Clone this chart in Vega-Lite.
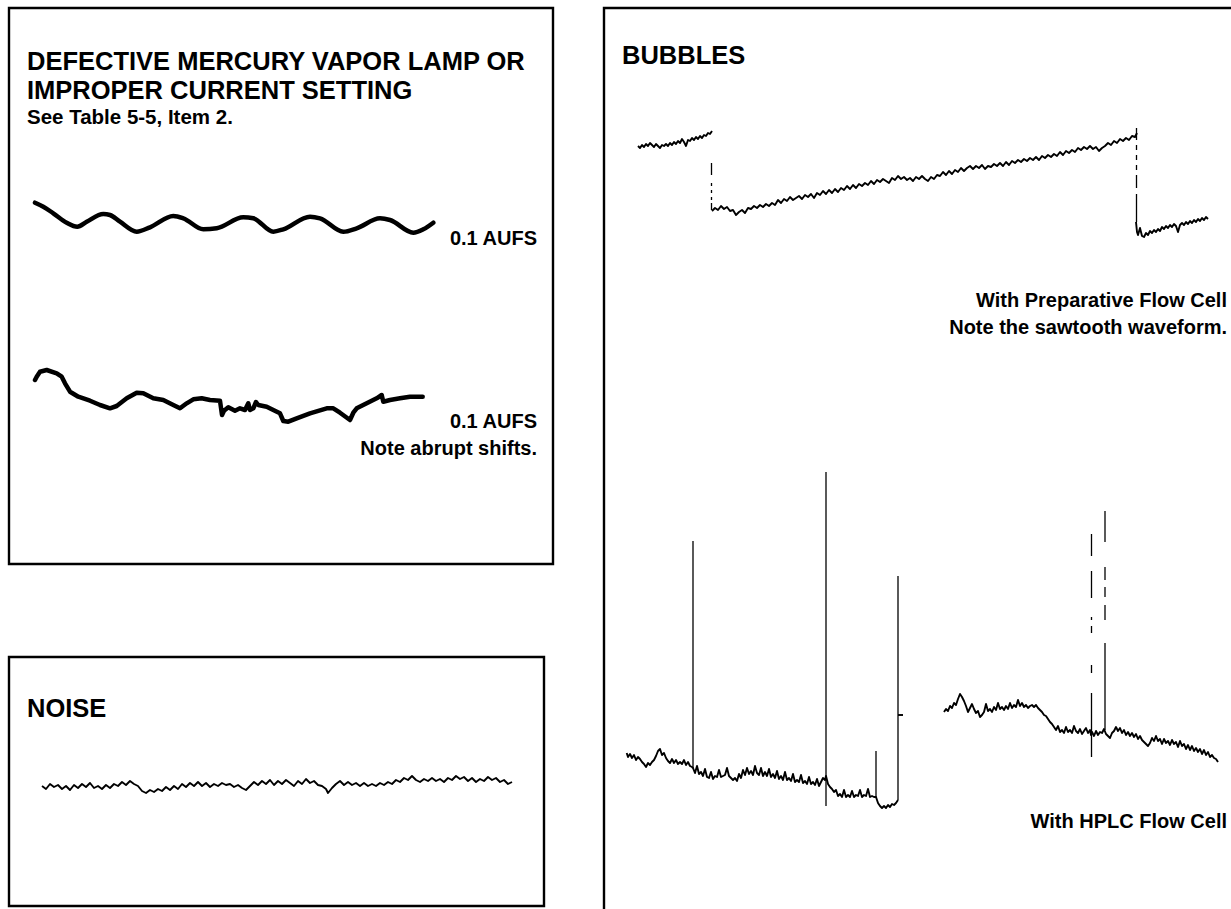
{
"$schema": "https://vega.github.io/schema/vega-lite/v6.json",
"autosize": {"type": "none"},
"width": 1231, "height": 909, "padding": 0, "background": "white",
"config": {"view": {"stroke": null}},
"datasets": {
"boxes": [
{"x1": 9, "x2": 553, "y1": 8, "y2": 564},
{"x1": 9, "x2": 544, "y1": 657, "y2": 906},
{"x1": 604, "x2": 1245, "y1": 8, "y2": 925}
],
"labels": [
{"kind": "head", "x": 27, "y": 70, "text": "DEFECTIVE MERCURY VAPOR LAMP OR"},
{"kind": "head", "x": 27, "y": 99, "text": "IMPROPER CURRENT SETTING"},
{"kind": "head", "x": 27, "y": 717, "text": "NOISE"},
{"kind": "head", "x": 622, "y": 64, "text": "BUBBLES"},
{"kind": "sub", "x": 27, "y": 124, "text": "See Table 5-5, Item 2."},
{"kind": "cap", "x": 537, "y": 245, "text": "0.1 AUFS"},
{"kind": "cap", "x": 537, "y": 428, "text": "0.1 AUFS"},
{"kind": "cap", "x": 537, "y": 455, "text": "Note abrupt shifts."},
{"kind": "cap", "x": 1227, "y": 307, "text": "With Preparative Flow Cell"},
{"kind": "cap", "x": 1227, "y": 334, "text": "Note the sawtooth waveform."},
{"kind": "cap", "x": 1227, "y": 828, "text": "With HPLC Flow Cell"}
],
"wave1": [
{"x":35,"y":202.7},{"x":43.3,"y":206.7},{"x":53.3,"y":213.3},{"x":66.7,"y":222.7},{"x":77.3,"y":226.7},{"x":86.7,"y":221.7},{"x":103.3,"y":214},{"x":110,"y":215},{"x":120,"y":221.7},{"x":136.7,"y":231.7},{"x":150,"y":227.3},{"x":173.3,"y":216},{"x":183.3,"y":218.3},{"x":203.3,"y":229.3},{"x":216.7,"y":228.3},{"x":243.3,"y":217.3},{"x":253.3,"y":218.3},{"x":273.3,"y":231.7},{"x":283.3,"y":229.3},{"x":310,"y":216.7},{"x":320,"y":218.3},{"x":343.3,"y":231.7},{"x":356.7,"y":228.3},{"x":380,"y":218.3},{"x":390,"y":220},{"x":413.3,"y":232.7},{"x":423.3,"y":229.3},{"x":433.3,"y":222.7}
],
"wave2": [
{"x":35,"y":380},{"x":36.7,"y":376.7},{"x":40,"y":371.7},{"x":46.7,"y":370},{"x":56.7,"y":373.3},{"x":61.7,"y":376.7},{"x":65,"y":383.3},{"x":70,"y":391.7},{"x":78.3,"y":396.7},{"x":90,"y":400.7},{"x":100,"y":405},{"x":110,"y":408.3},{"x":116.7,"y":406},{"x":126.7,"y":398.3},{"x":136.7,"y":392.7},{"x":143.3,"y":393.3},{"x":153.3,"y":398.3},{"x":163.3,"y":400},{"x":173.3,"y":405},{"x":180,"y":408.3},{"x":186.7,"y":403.3},{"x":193.3,"y":399.3},{"x":201.7,"y":398.3},{"x":210,"y":400},{"x":220,"y":400.7},{"x":222,"y":415},{"x":224,"y":410.7},{"x":228.3,"y":407.3},{"x":235,"y":410.7},{"x":240,"y":408.3},{"x":245,"y":410},{"x":248.3,"y":403.3},{"x":250,"y":410},{"x":253.3,"y":408.3},{"x":256,"y":402},{"x":258.3,"y":405},{"x":266.7,"y":406.7},{"x":273.3,"y":410},{"x":280,"y":413.3},{"x":283.3,"y":421},{"x":288.3,"y":421.7},{"x":296.7,"y":418.3},{"x":310,"y":413.3},{"x":326.7,"y":408.3},{"x":333.3,"y":408.3},{"x":340,"y":412.7},{"x":350,"y":420},{"x":353.3,"y":412.7},{"x":356.7,"y":408.3},{"x":366.7,"y":403.3},{"x":376.7,"y":398.3},{"x":381.7,"y":395},{"x":383.3,"y":401.7},{"x":390,"y":400},{"x":400,"y":398.3},{"x":410,"y":396.7},{"x":422.7,"y":396.7}
],
"traces": [
{"s":"noise","x":42,"y":786},{"s":"noise","x":46,"y":789},{"s":"noise","x":50,"y":784},{"s":"noise","x":54,"y":787},{"s":"noise","x":58,"y":785},{"s":"noise","x":62,"y":789},{"s":"noise","x":66,"y":786},{"s":"noise","x":70,"y":790},{"s":"noise","x":74,"y":785},{"s":"noise","x":78,"y":788},{"s":"noise","x":82,"y":784},{"s":"noise","x":86,"y":787},{"s":"noise","x":90,"y":783},{"s":"noise","x":94,"y":788},{"s":"noise","x":98,"y":786},{"s":"noise","x":102,"y":789},{"s":"noise","x":106,"y":785},{"s":"noise","x":110,"y":788},{"s":"noise","x":114,"y":784},{"s":"noise","x":118,"y":786},{"s":"noise","x":122,"y":782},{"s":"noise","x":126,"y":785},{"s":"noise","x":130,"y":781},{"s":"noise","x":134,"y":784},{"s":"noise","x":138,"y":786},{"s":"noise","x":142,"y":791},{"s":"noise","x":146,"y":793},{"s":"noise","x":150,"y":790},{"s":"noise","x":154,"y":792},{"s":"noise","x":158,"y":789},{"s":"noise","x":162,"y":791},{"s":"noise","x":166,"y":787},{"s":"noise","x":170,"y":790},{"s":"noise","x":174,"y":786},{"s":"noise","x":178,"y":789},{"s":"noise","x":182,"y":784},{"s":"noise","x":186,"y":787},{"s":"noise","x":190,"y":783},{"s":"noise","x":194,"y":786},{"s":"noise","x":198,"y":782},{"s":"noise","x":202,"y":786},{"s":"noise","x":206,"y":783},{"s":"noise","x":210,"y":787},{"s":"noise","x":214,"y":784},{"s":"noise","x":218,"y":786},{"s":"noise","x":222,"y":783},{"s":"noise","x":226,"y":785},{"s":"noise","x":230,"y":784},{"s":"noise","x":234,"y":787},{"s":"noise","x":238,"y":785},{"s":"noise","x":242,"y":788},{"s":"noise","x":246,"y":790},{"s":"noise","x":250,"y":786},{"s":"noise","x":254,"y":782},{"s":"noise","x":258,"y":785},{"s":"noise","x":262,"y":781},{"s":"noise","x":266,"y":784},{"s":"noise","x":270,"y":780},{"s":"noise","x":274,"y":785},{"s":"noise","x":278,"y":781},{"s":"noise","x":282,"y":784},{"s":"noise","x":286,"y":780},{"s":"noise","x":290,"y":783},{"s":"noise","x":294,"y":786},{"s":"noise","x":298,"y":781},{"s":"noise","x":302,"y":784},{"s":"noise","x":306,"y":779},{"s":"noise","x":310,"y":783},{"s":"noise","x":314,"y":781},{"s":"noise","x":318,"y":785},{"s":"noise","x":322,"y":786},{"s":"noise","x":326,"y":789},{"s":"noise","x":328,"y":793},{"s":"noise","x":332,"y":788},{"s":"noise","x":336,"y":784},{"s":"noise","x":340,"y":781},{"s":"noise","x":344,"y":785},{"s":"noise","x":348,"y":782},{"s":"noise","x":352,"y":785},{"s":"noise","x":356,"y":783},{"s":"noise","x":360,"y":786},{"s":"noise","x":364,"y":783},{"s":"noise","x":368,"y":786},{"s":"noise","x":372,"y":784},{"s":"noise","x":376,"y":786},{"s":"noise","x":380,"y":783},{"s":"noise","x":384,"y":785},{"s":"noise","x":388,"y":782},{"s":"noise","x":392,"y":784},{"s":"noise","x":396,"y":780},{"s":"noise","x":400,"y":782},{"s":"noise","x":404,"y":778},{"s":"noise","x":408,"y":780},{"s":"noise","x":412,"y":776},{"s":"noise","x":416,"y":780},{"s":"noise","x":420,"y":782},{"s":"noise","x":424,"y":779},{"s":"noise","x":428,"y":781},{"s":"noise","x":432,"y":778},{"s":"noise","x":436,"y":781},{"s":"noise","x":440,"y":779},{"s":"noise","x":444,"y":782},{"s":"noise","x":448,"y":778},{"s":"noise","x":452,"y":780},{"s":"noise","x":456,"y":776},{"s":"noise","x":460,"y":779},{"s":"noise","x":464,"y":777},{"s":"noise","x":468,"y":781},{"s":"noise","x":472,"y":778},{"s":"noise","x":476,"y":782},{"s":"noise","x":480,"y":779},{"s":"noise","x":484,"y":781},{"s":"noise","x":488,"y":777},{"s":"noise","x":492,"y":780},{"s":"noise","x":496,"y":778},{"s":"noise","x":500,"y":782},{"s":"noise","x":504,"y":780},{"s":"noise","x":508,"y":784},{"s":"noise","x":512,"y":782},
{"s":"bA","x":638,"y":146},{"s":"bA","x":640,"y":148},{"s":"bA","x":642,"y":145},{"s":"bA","x":644,"y":147},{"s":"bA","x":646,"y":144},{"s":"bA","x":648,"y":146},{"s":"bA","x":650,"y":143},{"s":"bA","x":652,"y":145},{"s":"bA","x":654,"y":147},{"s":"bA","x":656,"y":144},{"s":"bA","x":658,"y":146},{"s":"bA","x":660,"y":148},{"s":"bA","x":662,"y":145},{"s":"bA","x":664,"y":146},{"s":"bA","x":666,"y":144},{"s":"bA","x":668,"y":146},{"s":"bA","x":670,"y":143},{"s":"bA","x":672,"y":145},{"s":"bA","x":674,"y":142},{"s":"bA","x":676,"y":144},{"s":"bA","x":678,"y":141},{"s":"bA","x":680,"y":143},{"s":"bA","x":682,"y":139},{"s":"bA","x":684,"y":142},{"s":"bA","x":686,"y":146},{"s":"bA","x":688,"y":140},{"s":"bA","x":690,"y":141},{"s":"bA","x":692,"y":138},{"s":"bA","x":694,"y":140},{"s":"bA","x":696,"y":137},{"s":"bA","x":698,"y":139},{"s":"bA","x":700,"y":136},{"s":"bA","x":702,"y":138},{"s":"bA","x":704,"y":135},{"s":"bA","x":706,"y":136},{"s":"bA","x":708,"y":133},{"s":"bA","x":710,"y":134},{"s":"bA","x":712,"y":131},
{"s":"bB","x":712,"y":211},{"s":"bB","x":715,"y":208},{"s":"bB","x":718,"y":210},{"s":"bB","x":721,"y":206},{"s":"bB","x":724,"y":209},{"s":"bB","x":727,"y":207},{"s":"bB","x":730,"y":211},{"s":"bB","x":733,"y":210},{"s":"bB","x":736,"y":215},{"s":"bB","x":739,"y":212},{"s":"bB","x":742,"y":210},{"s":"bB","x":745,"y":213},{"s":"bB","x":748,"y":208},{"s":"bB","x":751,"y":209},{"s":"bB","x":754,"y":206},{"s":"bB","x":757,"y":208},{"s":"bB","x":760,"y":205},{"s":"bB","x":763,"y":207},{"s":"bB","x":766,"y":204},{"s":"bB","x":769,"y":206},{"s":"bB","x":772,"y":203},{"s":"bB","x":775,"y":205},{"s":"bB","x":778,"y":200},{"s":"bB","x":781,"y":203},{"s":"bB","x":784,"y":199},{"s":"bB","x":787,"y":201},{"s":"bB","x":790,"y":197},{"s":"bB","x":793,"y":200},{"s":"bB","x":796,"y":198},{"s":"bB","x":799,"y":196},{"s":"bB","x":802,"y":199},{"s":"bB","x":805,"y":195},{"s":"bB","x":808,"y":197},{"s":"bB","x":811,"y":194},{"s":"bB","x":814,"y":198},{"s":"bB","x":817,"y":193},{"s":"bB","x":820,"y":195},{"s":"bB","x":823,"y":191},{"s":"bB","x":826,"y":194},{"s":"bB","x":829,"y":190},{"s":"bB","x":832,"y":193},{"s":"bB","x":835,"y":189},{"s":"bB","x":838,"y":192},{"s":"bB","x":841,"y":188},{"s":"bB","x":844,"y":190},{"s":"bB","x":847,"y":186},{"s":"bB","x":850,"y":189},{"s":"bB","x":853,"y":185},{"s":"bB","x":856,"y":188},{"s":"bB","x":859,"y":184},{"s":"bB","x":862,"y":186},{"s":"bB","x":865,"y":183},{"s":"bB","x":868,"y":185},{"s":"bB","x":871,"y":181},{"s":"bB","x":874,"y":184},{"s":"bB","x":877,"y":180},{"s":"bB","x":880,"y":182},{"s":"bB","x":883,"y":179},{"s":"bB","x":886,"y":181},{"s":"bB","x":889,"y":183},{"s":"bB","x":892,"y":178},{"s":"bB","x":895,"y":180},{"s":"bB","x":898,"y":176},{"s":"bB","x":901,"y":179},{"s":"bB","x":904,"y":177},{"s":"bB","x":907,"y":180},{"s":"bB","x":910,"y":178},{"s":"bB","x":913,"y":181},{"s":"bB","x":916,"y":177},{"s":"bB","x":919,"y":179},{"s":"bB","x":922,"y":176},{"s":"bB","x":925,"y":179},{"s":"bB","x":928,"y":181},{"s":"bB","x":931,"y":177},{"s":"bB","x":934,"y":179},{"s":"bB","x":937,"y":175},{"s":"bB","x":940,"y":176},{"s":"bB","x":943,"y":172},{"s":"bB","x":946,"y":175},{"s":"bB","x":949,"y":171},{"s":"bB","x":952,"y":174},{"s":"bB","x":955,"y":170},{"s":"bB","x":958,"y":172},{"s":"bB","x":961,"y":168},{"s":"bB","x":964,"y":171},{"s":"bB","x":967,"y":168},{"s":"bB","x":970,"y":166},{"s":"bB","x":973,"y":169},{"s":"bB","x":976,"y":166},{"s":"bB","x":979,"y":168},{"s":"bB","x":982,"y":165},{"s":"bB","x":985,"y":169},{"s":"bB","x":988,"y":166},{"s":"bB","x":991,"y":167},{"s":"bB","x":994,"y":164},{"s":"bB","x":997,"y":166},{"s":"bB","x":1000,"y":163},{"s":"bB","x":1003,"y":166},{"s":"bB","x":1006,"y":162},{"s":"bB","x":1009,"y":165},{"s":"bB","x":1012,"y":161},{"s":"bB","x":1015,"y":163},{"s":"bB","x":1018,"y":160},{"s":"bB","x":1021,"y":162},{"s":"bB","x":1024,"y":159},{"s":"bB","x":1027,"y":161},{"s":"bB","x":1030,"y":158},{"s":"bB","x":1033,"y":160},{"s":"bB","x":1036,"y":157},{"s":"bB","x":1039,"y":160},{"s":"bB","x":1042,"y":156},{"s":"bB","x":1045,"y":158},{"s":"bB","x":1048,"y":155},{"s":"bB","x":1051,"y":157},{"s":"bB","x":1054,"y":154},{"s":"bB","x":1057,"y":156},{"s":"bB","x":1060,"y":152},{"s":"bB","x":1063,"y":155},{"s":"bB","x":1066,"y":151},{"s":"bB","x":1069,"y":153},{"s":"bB","x":1072,"y":150},{"s":"bB","x":1075,"y":152},{"s":"bB","x":1078,"y":148},{"s":"bB","x":1081,"y":150},{"s":"bB","x":1084,"y":147},{"s":"bB","x":1087,"y":149},{"s":"bB","x":1090,"y":146},{"s":"bB","x":1093,"y":149},{"s":"bB","x":1096,"y":147},{"s":"bB","x":1099,"y":151},{"s":"bB","x":1102,"y":148},{"s":"bB","x":1105,"y":146},{"s":"bB","x":1108,"y":143},{"s":"bB","x":1111,"y":145},{"s":"bB","x":1114,"y":141},{"s":"bB","x":1117,"y":143},{"s":"bB","x":1120,"y":139},{"s":"bB","x":1123,"y":141},{"s":"bB","x":1126,"y":138},{"s":"bB","x":1129,"y":140},{"s":"bB","x":1132,"y":136},{"s":"bB","x":1135,"y":137},{"s":"bB","x":1137,"y":133},
{"s":"bC","x":1136,"y":222},{"s":"bC","x":1137,"y":232},{"s":"bC","x":1138,"y":235},{"s":"bC","x":1140,"y":228},{"s":"bC","x":1142,"y":236},{"s":"bC","x":1144,"y":237},{"s":"bC","x":1146,"y":233},{"s":"bC","x":1148,"y":235},{"s":"bC","x":1150,"y":231},{"s":"bC","x":1152,"y":233},{"s":"bC","x":1154,"y":230},{"s":"bC","x":1156,"y":232},{"s":"bC","x":1158,"y":229},{"s":"bC","x":1160,"y":231},{"s":"bC","x":1162,"y":227},{"s":"bC","x":1164,"y":229},{"s":"bC","x":1166,"y":226},{"s":"bC","x":1168,"y":228},{"s":"bC","x":1170,"y":225},{"s":"bC","x":1172,"y":227},{"s":"bC","x":1174,"y":224},{"s":"bC","x":1176,"y":226},{"s":"bC","x":1178,"y":232},{"s":"bC","x":1180,"y":225},{"s":"bC","x":1182,"y":223},{"s":"bC","x":1184,"y":225},{"s":"bC","x":1186,"y":222},{"s":"bC","x":1188,"y":224},{"s":"bC","x":1190,"y":221},{"s":"bC","x":1192,"y":223},{"s":"bC","x":1194,"y":220},{"s":"bC","x":1196,"y":222},{"s":"bC","x":1198,"y":219},{"s":"bC","x":1200,"y":221},{"s":"bC","x":1202,"y":218},{"s":"bC","x":1204,"y":220},{"s":"bC","x":1206,"y":217},{"s":"bC","x":1208,"y":219},
{"s":"hL","x":626.7,"y":753},{"s":"hL","x":628,"y":757},{"s":"hL","x":630,"y":754},{"s":"hL","x":632,"y":758},{"s":"hL","x":634,"y":755},{"s":"hL","x":636,"y":760},{"s":"hL","x":638,"y":757},{"s":"hL","x":640,"y":759},{"s":"hL","x":642,"y":762},{"s":"hL","x":644,"y":764},{"s":"hL","x":646,"y":767},{"s":"hL","x":648,"y":763},{"s":"hL","x":650,"y":765},{"s":"hL","x":652,"y":762},{"s":"hL","x":654,"y":760},{"s":"hL","x":656,"y":756},{"s":"hL","x":658,"y":751},{"s":"hL","x":660,"y":749},{"s":"hL","x":662,"y":755},{"s":"hL","x":664,"y":753},{"s":"hL","x":666,"y":758},{"s":"hL","x":668,"y":761},{"s":"hL","x":670,"y":763},{"s":"hL","x":672,"y":759},{"s":"hL","x":674,"y":763},{"s":"hL","x":676,"y":760},{"s":"hL","x":678,"y":764},{"s":"hL","x":680,"y":762},{"s":"hL","x":682,"y":764},{"s":"hL","x":684,"y":760},{"s":"hL","x":686,"y":765},{"s":"hL","x":688,"y":762},{"s":"hL","x":690,"y":766},{"s":"hL","x":692,"y":767},{"s":"hL","x":693,"y":768},{"s":"hL","x":695,"y":773},{"s":"hL","x":697,"y":766},{"s":"hL","x":699,"y":774},{"s":"hL","x":701,"y":772},{"s":"hL","x":703,"y":776},{"s":"hL","x":705,"y":769},{"s":"hL","x":707,"y":777},{"s":"hL","x":709,"y":778},{"s":"hL","x":711,"y":772},{"s":"hL","x":713,"y":779},{"s":"hL","x":715,"y":776},{"s":"hL","x":717,"y":777},{"s":"hL","x":719,"y":770},{"s":"hL","x":721,"y":777},{"s":"hL","x":723,"y":776},{"s":"hL","x":725,"y":775},{"s":"hL","x":727,"y":768},{"s":"hL","x":729,"y":776},{"s":"hL","x":731,"y":778},{"s":"hL","x":733,"y":780},{"s":"hL","x":735,"y":778},{"s":"hL","x":737,"y":781},{"s":"hL","x":739,"y":774},{"s":"hL","x":741,"y":778},{"s":"hL","x":743,"y":770},{"s":"hL","x":745,"y":775},{"s":"hL","x":747,"y":768},{"s":"hL","x":749,"y":774},{"s":"hL","x":751,"y":771},{"s":"hL","x":753,"y":775},{"s":"hL","x":755,"y":766},{"s":"hL","x":757,"y":773},{"s":"hL","x":759,"y":775},{"s":"hL","x":761,"y":768},{"s":"hL","x":763,"y":776},{"s":"hL","x":765,"y":772},{"s":"hL","x":767,"y":776},{"s":"hL","x":769,"y":769},{"s":"hL","x":771,"y":777},{"s":"hL","x":773,"y":774},{"s":"hL","x":775,"y":778},{"s":"hL","x":777,"y":771},{"s":"hL","x":779,"y":779},{"s":"hL","x":781,"y":776},{"s":"hL","x":783,"y":780},{"s":"hL","x":785,"y":772},{"s":"hL","x":787,"y":780},{"s":"hL","x":789,"y":778},{"s":"hL","x":791,"y":781},{"s":"hL","x":793,"y":774},{"s":"hL","x":795,"y":782},{"s":"hL","x":797,"y":780},{"s":"hL","x":799,"y":782},{"s":"hL","x":801,"y":775},{"s":"hL","x":803,"y":783},{"s":"hL","x":805,"y":781},{"s":"hL","x":807,"y":784},{"s":"hL","x":809,"y":777},{"s":"hL","x":811,"y":784},{"s":"hL","x":813,"y":782},{"s":"hL","x":815,"y":785},{"s":"hL","x":817,"y":779},{"s":"hL","x":819,"y":786},{"s":"hL","x":821,"y":782},{"s":"hL","x":823,"y":778},{"s":"hL","x":825,"y":780},{"s":"hL","x":826,"y":776},{"s":"hL","x":828,"y":784},{"s":"hL","x":830,"y":787},{"s":"hL","x":832,"y":789},{"s":"hL","x":834,"y":792},{"s":"hL","x":836,"y":790},{"s":"hL","x":838,"y":796},{"s":"hL","x":840,"y":794},{"s":"hL","x":842,"y":797},{"s":"hL","x":844,"y":790},{"s":"hL","x":846,"y":797},{"s":"hL","x":848,"y":795},{"s":"hL","x":850,"y":797},{"s":"hL","x":852,"y":791},{"s":"hL","x":854,"y":797},{"s":"hL","x":856,"y":795},{"s":"hL","x":858,"y":796},{"s":"hL","x":860,"y":790},{"s":"hL","x":862,"y":797},{"s":"hL","x":864,"y":795},{"s":"hL","x":866,"y":796},{"s":"hL","x":868,"y":789},{"s":"hL","x":870,"y":797},{"s":"hL","x":872,"y":796},{"s":"hL","x":874,"y":797},{"s":"hL","x":876,"y":797},{"s":"hL","x":878,"y":803},{"s":"hL","x":880,"y":806},{"s":"hL","x":882,"y":808},{"s":"hL","x":884,"y":806},{"s":"hL","x":886,"y":808},{"s":"hL","x":888,"y":805},{"s":"hL","x":890,"y":807},{"s":"hL","x":892,"y":804},{"s":"hL","x":894,"y":805},{"s":"hL","x":896,"y":803},{"s":"hL","x":898,"y":800},
{"s":"tick","x":898,"y":715},{"s":"tick","x":903,"y":715},
{"s":"hR","x":944,"y":712},{"s":"hR","x":946,"y":709},{"s":"hR","x":948,"y":711},{"s":"hR","x":950,"y":706},{"s":"hR","x":952,"y":708},{"s":"hR","x":954,"y":703},{"s":"hR","x":956,"y":705},{"s":"hR","x":958,"y":699},{"s":"hR","x":960,"y":694},{"s":"hR","x":962,"y":697},{"s":"hR","x":964,"y":701},{"s":"hR","x":966,"y":706},{"s":"hR","x":968,"y":712},{"s":"hR","x":970,"y":708},{"s":"hR","x":972,"y":704},{"s":"hR","x":974,"y":709},{"s":"hR","x":976,"y":713},{"s":"hR","x":978,"y":711},{"s":"hR","x":980,"y":717},{"s":"hR","x":982,"y":715},{"s":"hR","x":984,"y":712},{"s":"hR","x":986,"y":704},{"s":"hR","x":988,"y":711},{"s":"hR","x":990,"y":709},{"s":"hR","x":992,"y":712},{"s":"hR","x":994,"y":707},{"s":"hR","x":996,"y":710},{"s":"hR","x":998,"y":703},{"s":"hR","x":1000,"y":709},{"s":"hR","x":1002,"y":707},{"s":"hR","x":1004,"y":710},{"s":"hR","x":1006,"y":706},{"s":"hR","x":1008,"y":709},{"s":"hR","x":1010,"y":703},{"s":"hR","x":1012,"y":708},{"s":"hR","x":1014,"y":705},{"s":"hR","x":1016,"y":707},{"s":"hR","x":1018,"y":700},{"s":"hR","x":1020,"y":706},{"s":"hR","x":1022,"y":703},{"s":"hR","x":1024,"y":707},{"s":"hR","x":1026,"y":705},{"s":"hR","x":1028,"y":708},{"s":"hR","x":1030,"y":706},{"s":"hR","x":1032,"y":705},{"s":"hR","x":1034,"y":707},{"s":"hR","x":1036,"y":705},{"s":"hR","x":1038,"y":708},{"s":"hR","x":1040,"y":710},{"s":"hR","x":1042,"y":712},{"s":"hR","x":1044,"y":715},{"s":"hR","x":1046,"y":716},{"s":"hR","x":1048,"y":719},{"s":"hR","x":1050,"y":722},{"s":"hR","x":1052,"y":724},{"s":"hR","x":1054,"y":727},{"s":"hR","x":1056,"y":730},{"s":"hR","x":1058,"y":726},{"s":"hR","x":1060,"y":732},{"s":"hR","x":1062,"y":730},{"s":"hR","x":1064,"y":733},{"s":"hR","x":1066,"y":727},{"s":"hR","x":1068,"y":732},{"s":"hR","x":1070,"y":730},{"s":"hR","x":1072,"y":733},{"s":"hR","x":1074,"y":726},{"s":"hR","x":1076,"y":731},{"s":"hR","x":1078,"y":733},{"s":"hR","x":1080,"y":729},{"s":"hR","x":1082,"y":734},{"s":"hR","x":1084,"y":731},{"s":"hR","x":1086,"y":728},{"s":"hR","x":1088,"y":733},{"s":"hR","x":1090,"y":730},{"s":"hR","x":1091,"y":735},{"s":"hR","x":1092,"y":732},{"s":"hR","x":1094,"y":736},{"s":"hR","x":1096,"y":731},{"s":"hR","x":1098,"y":735},{"s":"hR","x":1100,"y":732},{"s":"hR","x":1102,"y":733},{"s":"hR","x":1104,"y":729},{"s":"hR","x":1106,"y":734},{"s":"hR","x":1108,"y":736},{"s":"hR","x":1110,"y":738},{"s":"hR","x":1112,"y":733},{"s":"hR","x":1114,"y":731},{"s":"hR","x":1116,"y":727},{"s":"hR","x":1118,"y":731},{"s":"hR","x":1120,"y":728},{"s":"hR","x":1122,"y":733},{"s":"hR","x":1124,"y":730},{"s":"hR","x":1126,"y":735},{"s":"hR","x":1128,"y":732},{"s":"hR","x":1130,"y":736},{"s":"hR","x":1132,"y":733},{"s":"hR","x":1134,"y":737},{"s":"hR","x":1136,"y":734},{"s":"hR","x":1138,"y":739},{"s":"hR","x":1140,"y":736},{"s":"hR","x":1142,"y":740},{"s":"hR","x":1144,"y":742},{"s":"hR","x":1146,"y":744},{"s":"hR","x":1148,"y":746},{"s":"hR","x":1150,"y":743},{"s":"hR","x":1152,"y":738},{"s":"hR","x":1154,"y":741},{"s":"hR","x":1156,"y":736},{"s":"hR","x":1158,"y":741},{"s":"hR","x":1160,"y":739},{"s":"hR","x":1162,"y":744},{"s":"hR","x":1164,"y":739},{"s":"hR","x":1166,"y":743},{"s":"hR","x":1168,"y":741},{"s":"hR","x":1170,"y":745},{"s":"hR","x":1172,"y":740},{"s":"hR","x":1174,"y":744},{"s":"hR","x":1176,"y":742},{"s":"hR","x":1178,"y":747},{"s":"hR","x":1180,"y":741},{"s":"hR","x":1182,"y":746},{"s":"hR","x":1184,"y":744},{"s":"hR","x":1186,"y":749},{"s":"hR","x":1188,"y":745},{"s":"hR","x":1190,"y":750},{"s":"hR","x":1192,"y":746},{"s":"hR","x":1194,"y":751},{"s":"hR","x":1196,"y":748},{"s":"hR","x":1198,"y":752},{"s":"hR","x":1200,"y":749},{"s":"hR","x":1202,"y":754},{"s":"hR","x":1204,"y":750},{"s":"hR","x":1206,"y":755},{"s":"hR","x":1208,"y":752},{"s":"hR","x":1210,"y":757},{"s":"hR","x":1212,"y":755},{"s":"hR","x":1214,"y":758},{"s":"hR","x":1216,"y":759},{"s":"hR","x":1218,"y":762}
],
"spikes": [
{"x":693,"y1":541,"y2":768},{"x":826,"y1":472,"y2":806},{"x":876,"y1":751,"y2":797},{"x":898,"y1":576,"y2":800},
{"x":1091.5,"y1":534,"y2":556},{"x":1091.5,"y1":571,"y2":598},{"x":1091.5,"y1":617,"y2":620},{"x":1091.5,"y1":626,"y2":633},{"x":1091.5,"y1":665,"y2":673},{"x":1091.5,"y1":693,"y2":757},
{"x":1105,"y1":511,"y2":542},{"x":1105,"y1":567,"y2":580},{"x":1105,"y1":587,"y2":597},{"x":1105,"y1":605,"y2":620},{"x":1105,"y1":643,"y2":730},
{"x":711.5,"y1":163,"y2":175},{"x":711.5,"y1":183,"y2":186},{"x":711.5,"y1":190,"y2":193},{"x":711.5,"y1":197,"y2":200},{"x":711.5,"y1":203,"y2":210},
{"x":1136.5,"y1":128,"y2":140},{"x":1136.5,"y1":145,"y2":150},{"x":1136.5,"y1":155,"y2":160},{"x":1136.5,"y1":165,"y2":170},{"x":1136.5,"y1":175,"y2":188},{"x":1136.5,"y1":194,"y2":222}
]
},
"layer": [
{"data": {"name": "boxes"}, "mark": {"type": "rect", "fill": "transparent", "stroke": "#000", "strokeWidth": 2.4},
 "encoding": {
  "x": {"field": "x1", "type": "quantitative", "scale": {"domain": [0, 1231], "nice": false, "zero": false}, "axis": null},
  "x2": {"field": "x2"},
  "y": {"field": "y1", "type": "quantitative", "scale": {"domain": [0, 909], "nice": false, "zero": false, "reverse": true}, "axis": null},
  "y2": {"field": "y2"}}},
{"data": {"name": "wave1"}, "mark": {"type": "line", "color": "#000", "strokeWidth": 4.5, "interpolate": "monotone", "strokeCap": "round", "strokeJoin": "round"},
 "encoding": {"x": {"field": "x", "type": "quantitative"}, "y": {"field": "y", "type": "quantitative"}}},
{"data": {"name": "wave2"}, "mark": {"type": "line", "color": "#000", "strokeWidth": 4.5, "strokeCap": "round", "strokeJoin": "round"},
 "encoding": {"x": {"field": "x", "type": "quantitative"}, "y": {"field": "y", "type": "quantitative"}}},
{"data": {"name": "traces"}, "mark": {"type": "line", "color": "#000", "strokeWidth": 1.9, "strokeJoin": "round"},
 "encoding": {"x": {"field": "x", "type": "quantitative"}, "y": {"field": "y", "type": "quantitative"}, "detail": {"field": "s"}}},
{"data": {"name": "spikes"}, "mark": {"type": "rule", "color": "#000", "strokeWidth": 1.3},
 "encoding": {"x": {"field": "x", "type": "quantitative"}, "y": {"field": "y1", "type": "quantitative"}, "y2": {"field": "y2"}}},
{"data": {"name": "labels"}, "transform": [{"filter": "datum.kind === 'head'"}],
 "mark": {"type": "text", "align": "left", "baseline": "alphabetic", "font": "Liberation Sans", "fontWeight": "bold", "fontSize": 25.5, "color": "#000"},
 "encoding": {"x": {"field": "x", "type": "quantitative"}, "y": {"field": "y", "type": "quantitative"}, "text": {"field": "text"}}},
{"data": {"name": "labels"}, "transform": [{"filter": "datum.kind === 'sub'"}],
 "mark": {"type": "text", "align": "left", "baseline": "alphabetic", "font": "Liberation Sans", "fontWeight": "bold", "fontSize": 20.5, "color": "#000"},
 "encoding": {"x": {"field": "x", "type": "quantitative"}, "y": {"field": "y", "type": "quantitative"}, "text": {"field": "text"}}},
{"data": {"name": "labels"}, "transform": [{"filter": "datum.kind === 'cap'"}],
 "mark": {"type": "text", "align": "right", "baseline": "alphabetic", "font": "Liberation Sans", "fontWeight": "bold", "fontSize": 20, "color": "#000"},
 "encoding": {"x": {"field": "x", "type": "quantitative"}, "y": {"field": "y", "type": "quantitative"}, "text": {"field": "text"}}}
]
}
